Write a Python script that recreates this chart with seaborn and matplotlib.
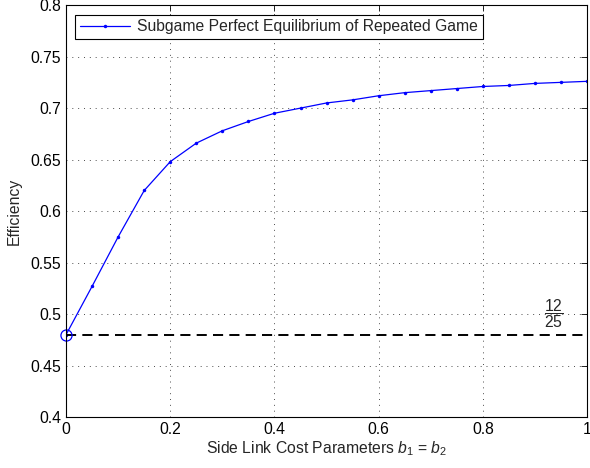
import numpy as np
import pandas as pd
import matplotlib
matplotlib.use('Agg')
import matplotlib.pyplot as plt
import seaborn as sns

# Values
b_values = [0.0, 0.05, 0.1, 0.15, 0.2, 0.25, 0.3, 0.35, 0.4, 0.45, 0.5,
            0.55, 0.6, 0.65, 0.7, 0.75, 0.8, 0.85, 0.9, 0.95, 1.0]
efficiency = [0.48, 0.527, 0.575, 0.620, 0.648, 0.666, 0.678, 0.687, 0.695,
              0.700, 0.705, 0.708, 0.712, 0.715, 0.717, 0.719, 0.721, 0.722,
              0.724, 0.725, 0.726]
baseline = 12 / 25
x_ticks = [0, 0.2, 0.4, 0.6, 0.8, 1]
x_tick_labels = ['0', '0.2', '0.4', '0.6', '0.8', '1']
y_ticks = [0.4, 0.45, 0.5, 0.55, 0.6, 0.65, 0.7, 0.75, 0.8]
y_tick_labels = ['0.4', '0.45', '0.5', '0.55', '0.6', '0.65', '0.7', '0.75', '0.8']

df = pd.DataFrame({'b': b_values, 'efficiency': efficiency})

sns.set_style('white')
plt.rcParams['font.family'] = ['Liberation Sans', 'DejaVu Sans']
plt.rcParams['mathtext.fontset'] = 'custom'
plt.rcParams['mathtext.rm'] = 'Liberation Sans'
plt.rcParams['mathtext.it'] = 'Liberation Sans:italic'

fs = 11.3
fig = plt.figure(figsize=(5.9, 4.68), dpi=100)
ax = fig.add_axes([0.112, 0.109, 0.883, 0.880])

sns.lineplot(data=df, x='b', y='efficiency', ax=ax, color='blue', lw=0.9,
             marker='.', markersize=5, markeredgewidth=0,
             label='Subgame Perfect Equilibrium of Repeated Game')

# dashed 12/25 reference line and open circle at the start
ax.plot([b_values[0], b_values[-1]], [baseline, baseline], color='black',
        lw=1.4, ls=(0, (5.2, 3.2)))
ax.plot([b_values[0]], [efficiency[0]], marker='o', markersize=8,
        fillstyle='none', color='blue', mew=0.9, ls='none', clip_on=False)
ax.text(0.937, 0.50, r'$\dfrac{12}{25}$', ha='center', va='center', fontsize=fs)

ax.set_xlim(0, 1)
ax.set_ylim(0.4, 0.8)
ax.set_xticks(x_ticks)
ax.set_xticklabels(x_tick_labels)
ax.set_yticks(y_ticks)
ax.set_yticklabels(y_tick_labels)
ax.grid(True, ls=(0, (1, 5)), color='black', lw=0.7, alpha=0.7)
ax.tick_params(direction='in', length=4, top=True, right=True, labelsize=fs,
               width=0.6, colors='black')
for s in ax.spines.values():
    s.set_color('black')
    s.set_linewidth(0.8)

ax.set_xlabel(r'Side Link Cost Parameters $b_1$ = $b_2$', fontsize=fs, labelpad=2)
ax.set_ylabel('Efficiency', fontsize=fs, labelpad=6)

leg = ax.legend(loc='upper left', fontsize=fs, fancybox=False, framealpha=1,
                edgecolor='black', borderaxespad=0.6, handlelength=3.2,
                handletextpad=0.45, borderpad=0.3)
leg.get_frame().set_linewidth(0.8)

fig.savefig('out.png', dpi=100)
